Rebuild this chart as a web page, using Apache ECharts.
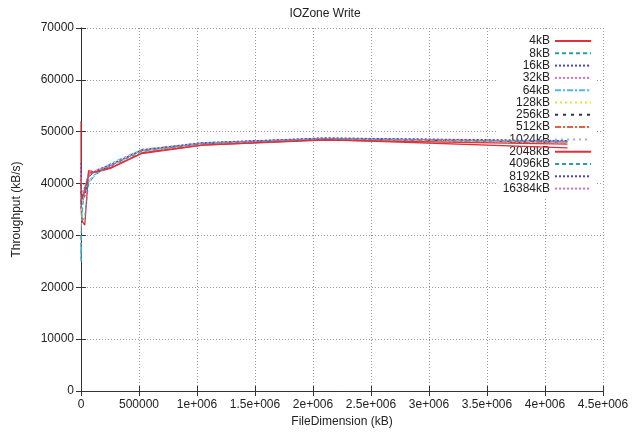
<!DOCTYPE html>
<html>
<head>
<meta charset="utf-8">
<script src="https://cdn.jsdelivr.net/npm/echarts@6/dist/echarts.min.js"></script>
<style>
html,body{margin:0;padding:0;background:#fff;}
#chart{width:641px;height:433px;}
</style>
</head>
<body>
<div id="chart"></div>
<script>
// File sizes (kB)
const fileSizes = [64,128,256,512,1024,2048,4096,8192,16384,32768,65536,131072,262144,524288,1048576,2097152,4194304];
const recordNames = ['4kB','8kB','16kB','32kB','64kB','128kB','256kB','512kB','1024kB','2048kB','4096kB','8192kB','16384kB'];
const xTickLabels = ['0','500000','1e+006','1.5e+006','2e+006','2.5e+006','3e+006','3.5e+006','4e+006','4.5e+006'];

// Throughput (kB/s) per record size, aligned to fileSizes (null = not tested)
const r4     = [52000,47000,43000,39000,36500,35000,34000,33000,32500,32000,42500,42200,43000,45800,47400,48400,47600];
const r8     = [30000,27000,25500,26000,28000,30000,32000,34000,36000,38000,40200,41800,43600,46300,47700,48600,48000];
const r16    = [44000,40000,38000,36000,35000,35500,36500,37500,38500,39500,41500,42600,43800,46500,47800,48800,48200];
const r32    = [42000,39500,37000,35500,34500,35000,36000,37000,38000,39000,41800,42400,43500,46400,47700,48700,48100];
const r64    = [28000,26000,25000,27000,29500,31500,33500,35000,36500,38000,40500,42100,44000,46600,47900,48700,48000];
const r128   = [null,38000,36000,34500,34000,34500,35500,36500,37500,38500,41200,42500,43600,46700,47800,48600,47900];
const r256   = [null,null,40000,38000,36000,35500,36000,37000,38000,39000,41400,42300,43400,46400,47700,48600,48000];
const r512   = [null,null,null,41000,38500,37000,36500,37000,38000,39000,41600,42300,43200,46000,47500,48500,47800];
const r1024  = [null,null,null,null,39000,37500,37000,37500,38500,39500,41500,42400,43500,46300,47600,48600,47900];
const r2048  = [null,null,null,null,null,40000,38000,37000,37000,38500,42000,42300,43100,45900,47400,48500,46900];
const r4096  = [null,null,null,null,null,null,36000,34000,33000,33500,40000,42000,43500,46200,47700,48600,48100];
const r8192  = [null,null,null,null,null,null,null,38000,37000,37500,41300,42500,43700,46500,47900,48800,48300];
const r16384 = [null,null,null,null,null,null,null,null,40000,39500,41800,42600,43600,46400,47800,48700,48200];

const allValues = [r4,r8,r16,r32,r64,r128,r256,r512,r1024,r2048,r4096,r8192,r16384];

const styles = [
  {color:'#e0303c', type:'solid', width:1.3},
  {color:'#2aa0a0', type:[4,3], width:1},
  {color:'#4848c0', type:[2,2], width:1},
  {color:'#e070b8', type:[2,2], width:1},
  {color:'#50b8e8', type:[6,2,2,2], width:1},
  {color:'#e8e040', type:[2,3], width:1},
  {color:'#333333', type:[3,5], width:1},
  {color:'#e86040', type:[6,2,2,2], width:1},
  {color:'#a0b0d8', type:[2,4], width:1},
  {color:'#e0303c', type:'solid', width:1.3},
  {color:'#2aa0a0', type:[4,3], width:1},
  {color:'#4848c0', type:[2,2], width:1},
  {color:'#e070b8', type:[2,2], width:1}
];

const font = '"Liberation Sans", Arial, sans-serif';
const textColor = '#222';

const series = recordNames.map((name, k) => ({
  name: name,
  type: 'line',
  symbol: 'none',
  showSymbol: false,
  z: 3,
  animation: false,
  color: styles[k].color,
  lineStyle: {color: styles[k].color, type: styles[k].type, width: styles[k].width},
  data: fileSizes.map((f, i) => [f, allValues[k][i]]).filter(p => p[1] !== null)
}));

const chart = echarts.init(document.getElementById('chart'), null, {renderer:'canvas'});
const axisLine = {show:true, lineStyle:{color:'#333', width:1}};
const tick = {show:true, inside:true, length:5, lineStyle:{color:'#333'}};
chart.setOption({
  animation: false,
  backgroundColor: '#fff',
  title: {
    text: 'IOZone Write', left: 320, top: 3, textAlign: 'center',
    textStyle: {fontFamily: font, fontSize: 12, fontWeight: 'normal', color: textColor}
  },
  grid: {left: 81, right: 38, top: 28, bottom: 42, containLabel: false},
  legend: {
    orient: 'vertical', align: 'right', right: 45, top: 31, z: 1,
    backgroundColor: '#fff', padding: [4, 4, 4, 6],
    itemWidth: 36, itemHeight: 10, itemGap: 0.3,
    itemStyle: {opacity: 0},
    textStyle: {fontFamily: font, fontSize: 12, color: textColor},
    data: recordNames
  },
  xAxis: [{
    type: 'value', min: 0, max: 4500000, interval: 500000,
    name: 'FileDimension (kB)', nameLocation: 'middle', nameGap: 23,
    nameTextStyle: {fontFamily: font, fontSize: 12, color: textColor},
    axisLine: axisLine, axisTick: tick,
    axisLabel: {fontFamily: font, fontSize: 12, color: textColor, margin: 8,
      formatter: v => xTickLabels[Math.round(v / 500000)]},
    splitLine: {show: true, lineStyle: {color: '#999', type: [1,2], width: 1}}
  }, {
    type: 'value', position: 'top', min: 0, max: 4500000, interval: 500000,
    axisLine: axisLine, axisTick: tick, axisLabel: {show: false}, splitLine: {show: false}
  }],
  yAxis: [{
    type: 'value', min: 0, max: 70000, interval: 10000,
    name: 'Throughput (kB/s)', nameLocation: 'middle', nameGap: 58, nameRotate: 90,
    nameTextStyle: {fontFamily: font, fontSize: 12, color: textColor},
    axisLine: axisLine, axisTick: tick,
    axisLabel: {fontFamily: font, fontSize: 12, color: textColor, margin: 7,
      formatter: v => String(v)},
    splitLine: {show: true, lineStyle: {color: '#999', type: [1,2], width: 1}}
  }, {
    type: 'value', position: 'right', min: 0, max: 70000, interval: 10000,
    axisLine: axisLine, axisTick: tick, axisLabel: {show: false}, splitLine: {show: false}
  }],
  series: series
});
</script>
</body>
</html>
